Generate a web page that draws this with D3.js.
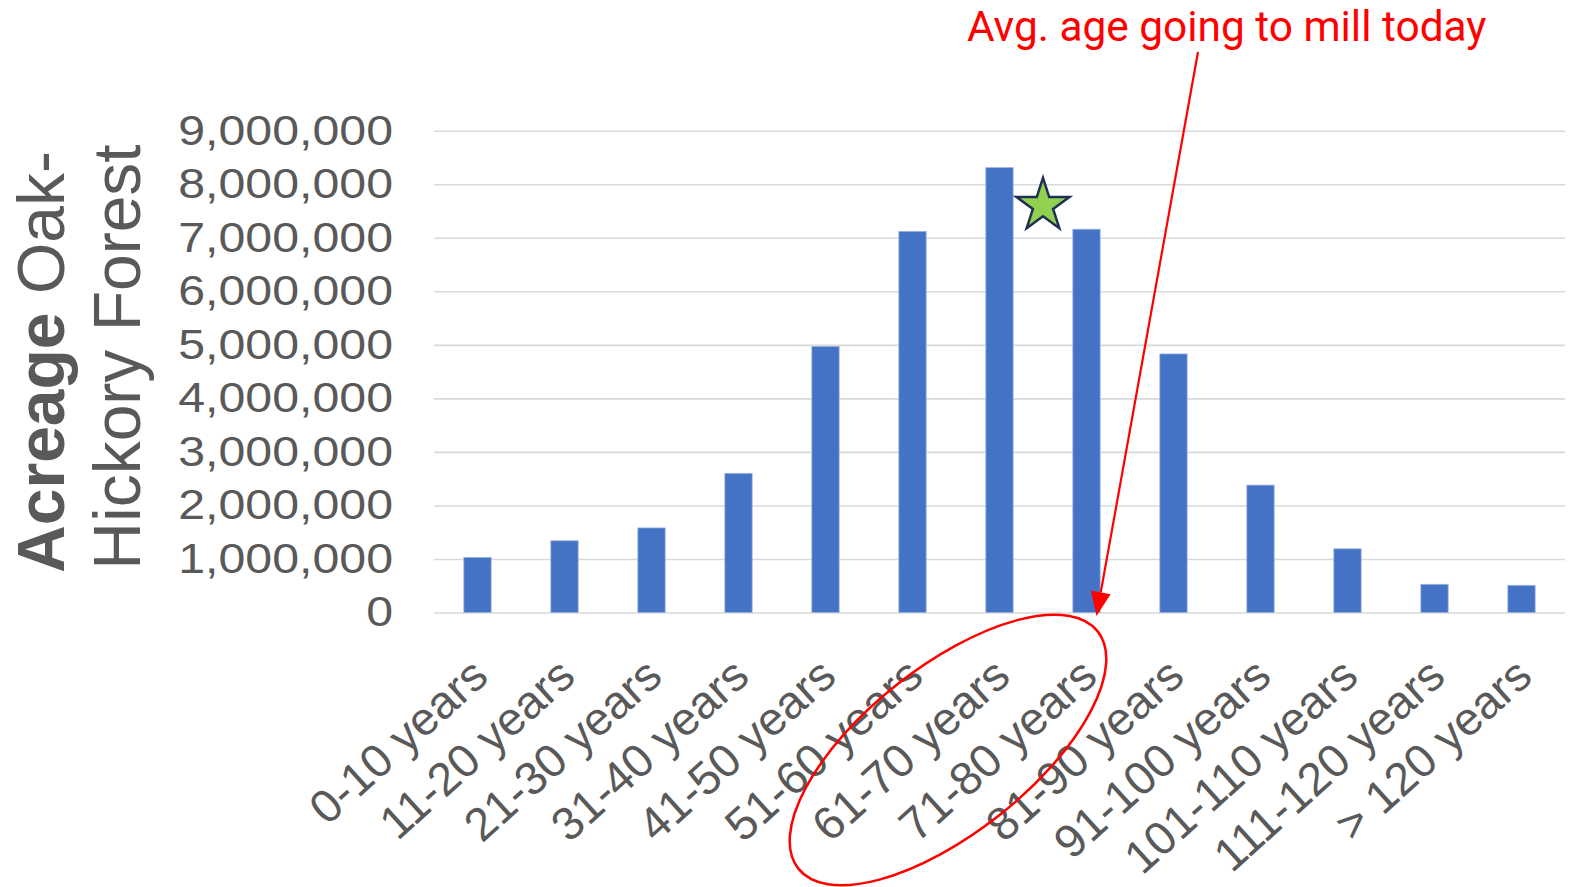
<!DOCTYPE html>
<html>
<head>
<meta charset="utf-8">
<script src="https://cdn.jsdelivr.net/npm/d3@7"></script>
<style>
    body { margin: 0; background: #fff; }
    svg { display: block; font-family: "Liberation Sans", Arial, sans-serif; }
    .tick-label { fill: #595959; font-size: 42px; }
    .x-label { font-size: 46.5px; }
    .graph-label { fill: #595959; font-size: 66px; }
    .note { fill: #ff0000; font-family: Roboto, sans-serif; font-size: 42.4px; }
</style>
</head>
<body>
<svg width="1575" height="887"></svg>
<script>
let categories = ['0-10 years', '11-20 years', '21-30 years', '31-40 years', '41-50 years',
    '51-60 years', '61-70 years', '71-80 years', '81-90 years', '91-100 years',
    '101-110 years', '111-120 years', '> 120 years']
let acres = [1030000, 1340000, 1580000, 2600000, 4970000, 7120000, 8310000,
    7160000, 4830000, 2380000, 1190000, 527000, 508000]
let yTicks = [0, 1000000, 2000000, 3000000, 4000000, 5000000, 6000000, 7000000, 8000000, 9000000]

// the star sits between these two bars, the ellipse circles their labels
let millCategories = ['61-70 years', '71-80 years']
let starValue = 7600000

let svg = d3.select('svg')

let plot = { left: 434, right: 1565, top: 130.7, bottom: 612.5 }
// the source chart is a little stretched sideways, so the tick numbers are wide
let stretch = 1.15

let scale = {
    x: d3.scaleBand().domain(categories).range([plot.left, plot.right])
        .paddingInner(0.686).paddingOuter(0.343),
    y: d3.scaleLinear().domain([0, 9000000]).range([plot.bottom, plot.top])
}

let center = d => scale.x(d) + scale.x.bandwidth() / 2

// Y axis with gridlines
let yAxis = svg.append('g')
    .attr('transform', `translate(${plot.left},0)`)
    .call(d3.axisLeft(scale.y)
        .tickValues(yTicks)
        .tickSize(-(plot.right - plot.left))
        .tickFormat(d3.format(',')))

yAxis.select('.domain').remove()
yAxis.selectAll('.tick line')
    .attr('stroke', '#d9d9d9')
    .attr('stroke-width', 1.6)
yAxis.selectAll('.tick text')
    .attr('class', 'tick-label')
    .attr('x', 0)
    .attr('transform', `translate(-41,0) scale(${stretch},1)`)
    .attr('font-family', null)
    .attr('font-size', null)
    .attr('fill', null)

// Bars
svg.selectAll('.bar')
    .data(acres)
    .enter()
    .append('rect')
    .attr('class', 'bar')
    .attr('x', (d, i) => scale.x(categories[i]))
    .attr('y', d => scale.y(d))
    .attr('width', scale.x.bandwidth())
    .attr('height', d => scale.y(0) - scale.y(d))
    .attr('fill', '#4472c4')
    .attr('stroke', '#9db5e0')
    .attr('stroke-width', 0.8)

// X labels, rotated
svg.selectAll('.x-label')
    .data(categories)
    .enter()
    .append('text')
    .attr('class', 'tick-label x-label')
    .attr('text-anchor', 'end')
    .attr('transform', d => `translate(${center(d) + 13},${plot.bottom + 67}) rotate(-42)`)
    .text(d => d)

// Y label, two lines
let yLabel = svg.append('text')
    .attr('class', 'graph-label')
    .attr('text-anchor', 'middle')
    .attr('font-size', 71)
    .attr('transform', 'translate(64,362) rotate(-90)')
yLabel.append('tspan').attr('font-weight', 'bold').text('Acreage')
yLabel.append('tspan').text(' Oak-')

svg.append('text')
    .attr('class', 'graph-label')
    .attr('text-anchor', 'middle')
    .attr('transform', 'translate(140,357) rotate(-90)')
    .text('Hickory Forest')

// Star between the two mill-age bars
let starX = (center(millCategories[0]) + center(millCategories[1])) / 2
let starY = scale.y(starValue)
let outer = 27.8, inner = outer * 0.382
let starPoints = d3.range(10).map(i => {
    let r = i % 2 ? inner : outer
    let a = -Math.PI / 2 + i * Math.PI / 5
    return [starX + r * Math.cos(a), starY + r * Math.sin(a)]
})
svg.append('polygon')
    .attr('points', starPoints.map(p => p.join(',')).join(' '))
    .attr('fill', '#92d050')
    .attr('stroke', '#1f2f55')
    .attr('stroke-width', 2.5)
    .attr('stroke-linejoin', 'miter')

// Ellipse round the two labels
let ellX = (center(millCategories[0]) + center(millCategories[1])) / 2 - 95
svg.append('ellipse')
    .attr('cx', 0)
    .attr('cy', 0)
    .attr('rx', 191)
    .attr('ry', 83)
    .attr('transform', `translate(${ellX},750) rotate(-38.4)`)
    .attr('fill', 'none')
    .attr('stroke', '#ff0000')
    .attr('stroke-width', 2.5)

// Note and arrow
svg.append('text')
    .attr('class', 'note')
    .attr('x', 967)
    .attr('y', 41)
    .text('Avg. age going to mill today')

let from = [1198, 52]
let tip = [center(millCategories[1]) + 10, plot.bottom + 3.5]
let ang = Math.atan2(tip[1] - from[1], tip[0] - from[0])
let headLen = 24, headW = 10
let base = [tip[0] - headLen * Math.cos(ang), tip[1] - headLen * Math.sin(ang)]

svg.append('line')
    .attr('x1', from[0])
    .attr('y1', from[1])
    .attr('x2', base[0])
    .attr('y2', base[1])
    .attr('stroke', '#ff0000')
    .attr('stroke-width', 2.2)

svg.append('polygon')
    .attr('points', [
        tip,
        [base[0] + headW * Math.sin(ang), base[1] - headW * Math.cos(ang)],
        [base[0] - headW * Math.sin(ang), base[1] + headW * Math.cos(ang)]
    ].map(p => p.join(',')).join(' '))
    .attr('fill', '#ff0000')
</script>
</body>
</html>
